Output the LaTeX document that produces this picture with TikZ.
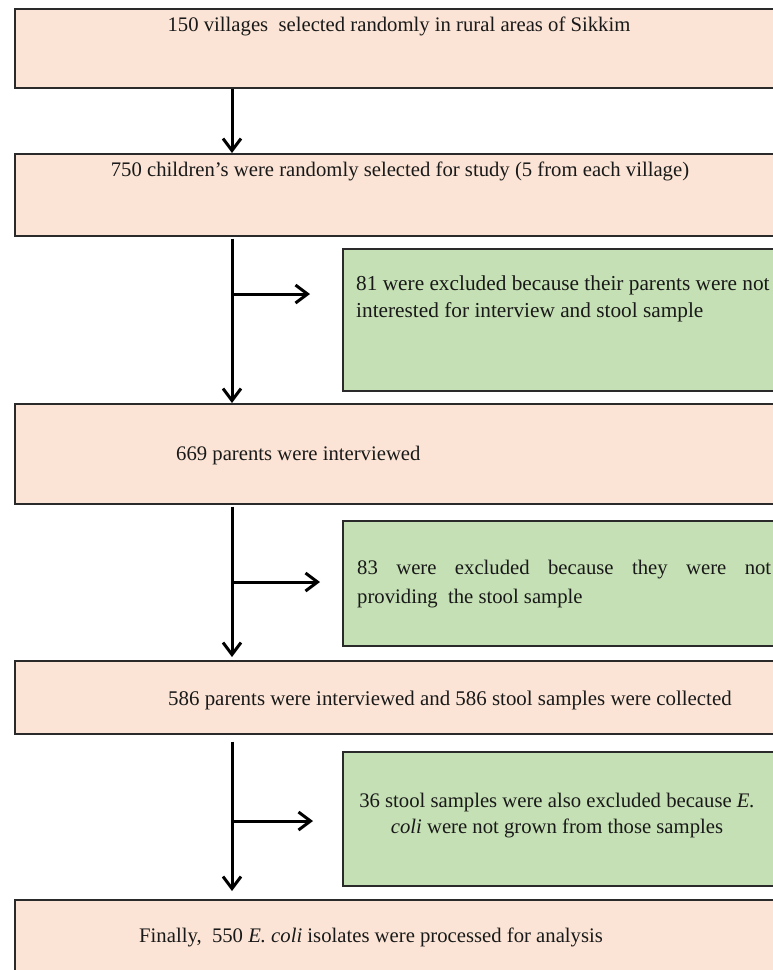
\documentclass[tikz,border=0pt]{standalone}
\usepackage{fontspec}
\setmainfont{Liberation Serif}
\usetikzlibrary{arrows.meta}
\definecolor{pinkfill}{HTML}{FBE4D5}
\definecolor{greenfill}{HTML}{C5E0B4}
\definecolor{edge}{HTML}{2A2A2A}
\begin{document}
\begin{tikzpicture}[x=1pt,y=-1pt,
  pinkbox/.style={draw=edge, line width=1.5pt, fill=pinkfill, rectangle, inner sep=0pt, anchor=north west, minimum width=776pt},
  greenbox/.style={draw=edge, line width=1.5pt, fill=greenfill, rectangle, inner sep=0pt, anchor=north west, minimum width=450pt},
  txt/.style={inner sep=0pt, text=black!90, font=\fontsize{20.7}{25}\selectfont},
  arr/.style={line width=3pt, -{Straight Barb[length=12pt,width=18pt,line width=3pt]}}
]
\clip (0,0) rectangle (773,970);
\fill[white] (0,0) rectangle (773,970);

% main boxes
\node[pinkbox, minimum height=79pt] (b1) at (14,8) {};
\node[pinkbox, minimum height=82pt] (b2) at (14,153) {};
\node[pinkbox, minimum height=100pt] (b3) at (14,403) {};
\node[pinkbox, minimum height=73pt] (b4) at (14,660) {};
\node[pinkbox, minimum height=100pt] (b5) at (14,899) {};

% exclusion boxes
\node[greenbox, minimum height=142pt] (g1) at (342,248) {};
\node[greenbox, minimum height=125pt] (g2) at (342,520) {};
\node[greenbox, minimum height=134pt] (g3) at (342,751) {};

% texts
\node[txt, anchor=base] (t1) at (399,31.5) {150 villages\ \ selected randomly in rural areas of Sikkim};
\node[txt, anchor=base] (t2) at (400,176) {750 children’s were randomly selected for study (5 from each village)};
\node[txt, anchor=base west] (t3) at (176,460) {669 parents were interviewed};
\node[txt, anchor=base west, font=\fontsize{20.9}{25}\selectfont] (t4) at (168,705) {586 parents were interviewed and 586 stool samples were collected};
\node[txt, anchor=base west] (t5) at (139,942) {Finally,\ \ 550 \textit{E. coli} isolates were processed for analysis};

\node[txt, anchor=base west, font=\fontsize{21.3}{25}\selectfont] (g1a) at (356,290) {81 were excluded because their parents were not};
\node[txt, anchor=base west, font=\fontsize{21.3}{25}\selectfont] (g1b) at (356,317) {interested for interview and stool sample};

\node[txt, anchor=base west] (g2a) at (357,574) {\makebox[414pt][s]{83 were excluded because they were not}};
\node[txt, anchor=base west] (g2b) at (357,603) {providing\ \ the stool sample};

\node[txt, anchor=base] (g3a) at (557,807) {36 stool samples were also excluded because \textit{E.}};
\node[txt, anchor=base] (g3b) at (557,833) {\textit{coli} were not grown from those samples};

% connectors
\coordinate (ax) at (232,0);
\coordinate (br1) at (232,294);
\coordinate (br2) at (232,582);
\coordinate (br3) at (232,821);

\draw[arr] (b1.south -| ax) -- (b2.north -| ax);
\draw[arr, shorten <=2pt] (b2.south -| ax) -- (b3.north -| ax);
\draw[arr, shorten <=2pt, shorten >=3pt] (b3.south -| ax) -- (b4.north -| ax);
\draw[arr, shorten <=7pt, shorten >=8pt] (b4.south -| ax) -- (b5.north -| ax);

\draw[arr, shorten >=32pt] (br1) -- (br1 -| g1.west);
\draw[arr, shorten >=22pt] (br2) -- (br2 -| g2.west);
\draw[arr, shorten >=29pt] (br3) -- (br3 -| g3.west);
\end{tikzpicture}
\end{document}
